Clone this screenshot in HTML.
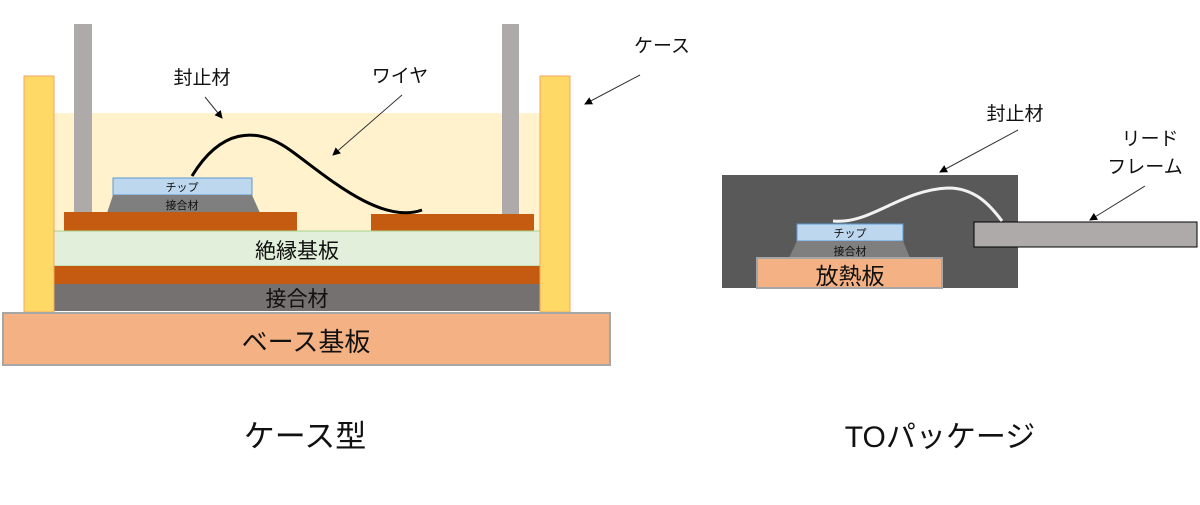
<!DOCTYPE html>
<html><head><meta charset="utf-8"><style>
body{margin:0;width:1200px;height:500px;background:#fff;overflow:hidden}
text{font-family:"Liberation Sans","Noto Sans CJK JP",sans-serif;fill:#111}
</style></head><body>
<svg width="1200" height="500" viewBox="0 0 1200 500">
<defs><marker id="a" markerWidth="8" markerHeight="8" refX="7" refY="4" orient="auto" markerUnits="userSpaceOnUse"><path d="M0,0 L8,4 L0,8z" fill="#000"/></marker></defs>
<rect x="54" y="113" width="486" height="118" fill="#FFF2CC"/>
<rect x="74" y="24" width="18" height="191" fill="#AEAAAA"/>
<rect x="502" y="24" width="17" height="191" fill="#AEAAAA"/>
<rect x="113" y="178" width="139" height="17" fill="#BDD7EE" stroke="#5B9BD5" stroke-width="1"/>
<text x="182" y="191" font-size="11" text-anchor="middle" fill="#555">チップ</text>
<path d="M113,195 L252,195 L260,213 L107,213z" fill="#7F7F7F"/>
<text x="182" y="209" font-size="11" text-anchor="middle" fill="#333">接合材</text>
<rect x="64" y="212" width="233" height="19" fill="#C55A11"/>
<rect x="371" y="214" width="163" height="17" fill="#C55A11"/>
<rect x="54" y="231" width="486" height="35" fill="#E2EFDA" stroke="#A9D18E" stroke-width="1"/>
<text x="297" y="258" font-size="21" text-anchor="middle">絶縁基板</text>
<rect x="54" y="266" width="486" height="18" fill="#C55A11"/>
<rect x="54" y="284" width="486" height="27" fill="#767171"/>
<text x="297" y="306" font-size="21" text-anchor="middle">接合材</text>
<rect x="24" y="76" width="30" height="236" fill="#FFD966" stroke="#F4A460" stroke-width="1"/>
<rect x="540" y="76" width="30" height="236" fill="#FFD966" stroke="#F4A460" stroke-width="1"/>
<rect x="3" y="313" width="607" height="52" fill="#F4B183" stroke="#A6A6A6" stroke-width="2"/>
<text x="306" y="351" font-size="26" text-anchor="middle">ベース基板</text>
<path d="M192,176 C220,130 255,125 290,150 S380,225 422,210" fill="none" stroke="#000" stroke-width="3"/>
<text x="202" y="84" font-size="19" text-anchor="middle">封止材</text>
<line x1="205" y1="97" x2="222" y2="118" stroke="#333" marker-end="url(#a)"/>
<text x="400" y="82" font-size="19" text-anchor="middle">ワイヤ</text>
<line x1="402" y1="95" x2="333" y2="155" stroke="#333" marker-end="url(#a)"/>
<text x="662" y="52" font-size="19" text-anchor="middle">ケース</text>
<line x1="640" y1="75" x2="585" y2="104" stroke="#333" marker-end="url(#a)"/>
<text x="305" y="447" font-size="31" text-anchor="middle">ケース型</text>
<rect x="722" y="175" width="296" height="113" fill="#595959"/>
<rect x="974" y="222" width="223" height="25" fill="#AEAAAA" stroke="#000" stroke-width="1"/>
<rect x="797" y="224" width="106" height="17" fill="#BDD7EE" stroke="#5B9BD5" stroke-width="1"/>
<text x="850" y="237" font-size="11" text-anchor="middle" fill="#555">チップ</text>
<path d="M797,241 L903,241 L910,258 L789,258z" fill="#7F7F7F"/>
<text x="850" y="255" font-size="11" text-anchor="middle" fill="#333">接合材</text>
<rect x="757" y="258" width="185" height="30" fill="#F4B183" stroke="#A6A6A6" stroke-width="2"/>
<text x="850" y="284" font-size="23" text-anchor="middle">放熱板</text>
<path d="M833,221 C870,225 900,190 948,188 C975,188 990,205 1002,221" fill="none" stroke="#F2F2F2" stroke-width="3"/>
<text x="1015" y="120" font-size="19" text-anchor="middle">封止材</text>
<line x1="1018" y1="130" x2="940" y2="172" stroke="#333" marker-end="url(#a)"/>
<text x="1150" y="145" font-size="19" text-anchor="middle">リード</text>
<text x="1145" y="173" font-size="19" text-anchor="middle">フレーム</text>
<line x1="1145" y1="186" x2="1090" y2="220" stroke="#333" marker-end="url(#a)"/>
<text x="940" y="447" font-size="30" text-anchor="middle">TOパッケージ</text>
</svg>
</body></html>
